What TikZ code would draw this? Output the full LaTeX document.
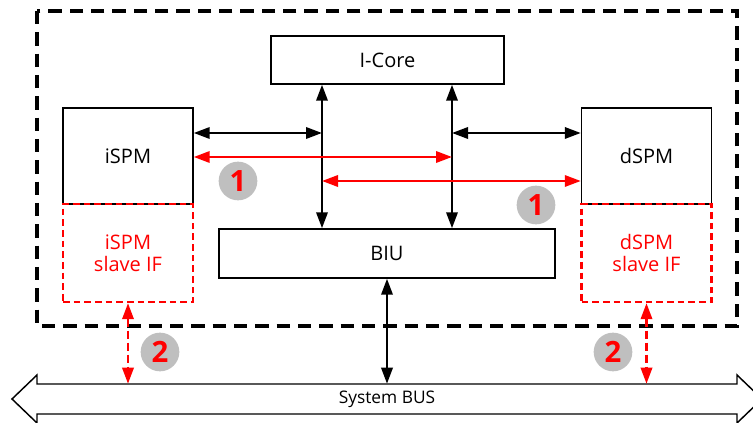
\documentclass[tikz,border=0pt]{standalone}
\usepackage{fontspec}
\setmainfont{Open Sans}
\usetikzlibrary{arrows.meta}
\begin{document}
\begin{tikzpicture}[x=0.75pt,y=-0.75pt,
  box/.style={draw,line width=1.1pt,inner sep=0pt,font=\fontsize{15}{19}\selectfont},
  slavebox/.style={draw=red,dash pattern=on 5pt off 3pt,line width=1.8pt,text=red,align=center,
    inner sep=0pt,minimum width=97.5pt,minimum height=73.5pt,font=\fontsize{15}{16.5}\selectfont},
  link/.style={line width=1.8pt,{Triangle[length=12pt,width=8.5pt]}-{Triangle[length=12pt,width=8.5pt]}},
  redlink/.style={link,red},
  num/.style={circle,fill=gray!50,text=red,inner sep=0pt,minimum size=29pt,
    font=\fontsize{22}{22}\selectfont\bfseries}]
  \useasboundingbox (0,0) rectangle (753,423);

  % Rahmen
  \draw[line width=2.8pt,dash pattern=on 10pt off 6pt] (37,11) rectangle (737,326);

  % Bloecke
  \node[box,minimum width=174.75pt,minimum height=36pt] (ICore) at (387.5,60) {I-Core};
  \node[box,minimum width=97.5pt,minimum height=72pt] (iSPM) at (128,156) {iSPM};
  \node[box,minimum width=97.5pt,minimum height=72pt] (dSPM) at (646.5,156) {dSPM};
  \node[box,minimum width=252pt,minimum height=36.75pt] (BIU) at (387,253.5) {BIU};
  \node[slavebox] (iIF) at (128,253) {iSPM\\slave IF};
  \node[slavebox] (dIF) at (646.5,253) {dSPM\\slave IF};

  % System BUS
  \draw[line width=1.1pt,fill=white] (12,399) -- (37,375) -- (37,384) -- (737,384) -- (737,375)
    -- (762,399) -- (737,423) -- (737,414) -- (37,414) -- (37,423) -- cycle;
  \node[inner sep=0pt,minimum width=525pt,minimum height=22.5pt,font=\fontsize{13}{15}\selectfont]
    (bus) at (387,399) {System BUS};

  % Hilfslinien
  \coordinate (lineL) at (322,0);
  \coordinate (lineR) at (452,0);
  \coordinate (rowA) at (0,133);
  \coordinate (rowB) at (0,157);
  \coordinate (rowC) at (0,181);

  % Verbindungen
  \draw[link] (ICore.south -| lineL) -- (BIU.north -| lineL);
  \draw[link] (ICore.south -| lineR) -- (BIU.north -| lineR);
  \draw[link] (iSPM.east |- rowA) -- (lineL |- rowA);
  \draw[link] (dSPM.west |- rowA) -- (lineR |- rowA);
  \draw[link] (BIU.south) -- (bus.north -| BIU.south);
  \draw[redlink] (iSPM.east |- rowB) -- (lineR |- rowB);
  \draw[redlink] (lineL |- rowC) -- (dSPM.west |- rowC);
  \draw[redlink,dash pattern=on 6pt off 3pt] (iIF.south) -- (bus.north -| iIF.south);
  \draw[redlink,dash pattern=on 6pt off 3pt] (dIF.south) -- (bus.north -| dIF.south);

  % Nummern
  \node[num] (n1a) at (238,181) {1};
  \node[num] (n1b) at (536,205) {1};
  \node[num] (n2a) at (160,352) {2};
  \node[num] (n2b) at (613,352) {2};
\end{tikzpicture}
\end{document}
